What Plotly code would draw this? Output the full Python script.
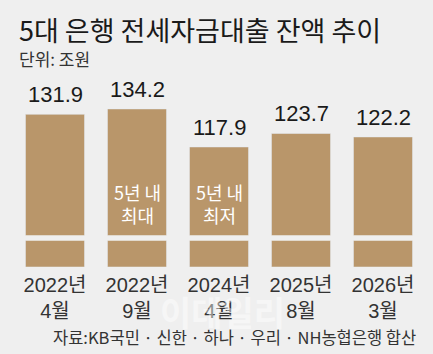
import plotly.graph_objects as go

categories = ["2022년<br>4월", "2022년<br>9월", "2024년<br>4월", "2025년<br>8월", "2026년<br>3월"]
values = [131.9, 134.2, 117.9, 123.7, 122.2]
value_labels = ["131.9", "134.2", "117.9", "123.7", "122.2"]
inner_notes = ["", "5년 내<br>최대", "5년 내<br>최저", "", ""]

title = "5대 은행 전세자금대출 잔액 추이"
unit = "단위: 조원"
source = "자료:KB국민 · 신한 · 하나 · 우리 · NH농협은행 합산"

BAR = "#b9966a"
BG = "#efefef"
FONT = "Liberation Sans, Noto Sans CJK KR, sans-serif"
KFONT = "Noto Sans CJK KR, Liberation Sans, sans-serif"

W, H = 433, 354
mt, mb, ml, mr = 80, 87, 14, 9
plot_h = H - mt - mb
plot_w = W - ml - mr
top_dom0 = (267 - 235.2) / plot_h
bot_dom1 = (267 - 240.7) / plot_h


def px(xp):
    return (xp - ml) / plot_w


def py(yp):
    return 1 - (yp - mt) / plot_h


fig = go.Figure()
# lower segment (broken axis)
fig.add_trace(go.Bar(x=categories, y=values, marker_color=BAR, xaxis="x", yaxis="y",
                     hoverinfo="skip", showlegend=False))
# upper segment
fig.add_trace(go.Bar(x=categories, y=values, marker_color=BAR, xaxis="x2", yaxis="y2",
                     showlegend=False))

annotations = []
for c, v, lab in zip(categories, values, value_labels):
    annotations.append(dict(x=c, y=v, xref="x2", yref="y2", text=lab, showarrow=False,
                            yanchor="bottom", yshift=5,
                            font=dict(family=FONT, size=22, color="#1a1a1a")))
for c, note in zip(categories, inner_notes):
    if note:
        annotations.append(dict(x=c, y=93.5, xref="x2", yref="y2", text=note, showarrow=False,
                                yanchor="middle",
                                font=dict(family=KFONT, size=18, color="#ffffff")))

annotations += [
    dict(x=px(17), y=py(29), xref="paper", yref="paper", xanchor="left", yanchor="middle",
         text=title, showarrow=False, font=dict(family=KFONT, size=27, color="#1a1a1a")),
    dict(x=px(17), y=py(58), xref="paper", yref="paper", xanchor="left", yanchor="middle",
         text=unit, showarrow=False, font=dict(family=KFONT, size=17, color="#333333")),
    dict(x=px(418), y=py(337), xref="paper", yref="paper", xanchor="right", yanchor="middle",
         text=source, showarrow=False, font=dict(family=KFONT, size=16.5, color="#333333")),
    dict(x=px(222), y=py(311), xref="paper", yref="paper", xanchor="center", yanchor="middle",
         text="<b>이데일리</b>", showarrow=False,
         font=dict(family=KFONT, size=34, color="rgba(255,255,255,0.45)")),
]

fig.update_layout(
    width=W, height=H,
    margin=dict(l=ml, r=mr, t=mt, b=mb),
    paper_bgcolor=BG, plot_bgcolor=BG,
    bargap=0.28,
    xaxis=dict(domain=[0, 1], anchor="y", showgrid=False, zeroline=False, showline=False,
               ticks="", tickfont=dict(family=FONT, size=20, color="#333333"),
               ticklabelstandoff=4, fixedrange=True),
    xaxis2=dict(domain=[0, 1], anchor="y2", matches="x", showticklabels=False,
                showgrid=False, zeroline=False, showline=False, ticks=""),
    yaxis=dict(domain=[0, bot_dom1], range=[0, 10], visible=False),
    yaxis2=dict(domain=[top_dom0, 1], range=[80.1, 146.6], visible=False),
    annotations=annotations,
)

fig.write_html("out.html")
